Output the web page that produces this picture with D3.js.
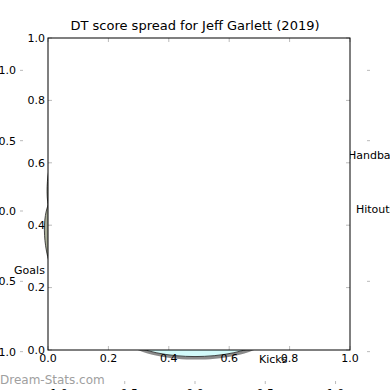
<!DOCTYPE html>
<html><head><meta charset="utf-8">
<script src="https://cdn.jsdelivr.net/npm/d3@7"></script>
<style>body{margin:0;background:#fff}svg{display:block}text{font-family:"DejaVu Sans",sans-serif}</style>
</head><body><svg id="c" width="390" height="390"></svg>
<script>
// ---- data ----
const title = "DT score spread for Jeff Garlett (2019)";
const watermark = "Dream-Stats.com";
const categories = ["Kicks", "Handballs", "Hitouts", "Goals"];
// radar sample directions (degrees, clockwise from the right)
const directions = [0, 30, 60, 90, 120, 150, 180, 210, 240, 270, 300, 330];
const seasonSpread = [0.90, 0.95, 1.05, 1.035, 1.05, 0.95, 0.90, 0.85, 0.80, 0.80, 0.80, 0.85];
const gameSpreadA  = [0.85, 0.80, 0.80, 0.85, 0.95, 1.10, 1.058, 0.85, 0.80, 0.80, 0.80, 0.80];
const gameSpreadB  = [0.80, 0.80, 0.80, 0.80, 0.80, 0.85, 1.038, 1.085, 0.85, 0.80, 0.80, 0.80];
const outerTicks = [-1.0, -0.5, 0.0, 0.5, 1.0];
const innerTicks = [0.0, 0.2, 0.4, 0.6, 0.8, 1.0];

// ---- layout ----
const svg = d3.select("#c");
const ox = d3.scaleLinear().domain([-1.245, 1.245]).range([20, 370]);
const oy = d3.scaleLinear().domain([-1.23, 1.23]).range([384, 38]);
const ix = d3.scaleLinear().domain([0, 1]).range([48, 350]);
const iy = d3.scaleLinear().domain([0, 1]).range([350, 38]);
const fmt = d3.format(".1f");
const tickCol = "#bbbbbb";
const fs = 11;

// outer axes ticks (inward)
const outer = svg.append("g");
outerTicks.forEach(t => {
  outer.append("line").attr("x1", 20).attr("x2", 23).attr("y1", oy(t)).attr("y2", oy(t)).attr("stroke", tickCol);
  outer.append("line").attr("x1", 367).attr("x2", 370).attr("y1", oy(t)).attr("y2", oy(t)).attr("stroke", tickCol);
  outer.append("line").attr("y1", 38).attr("y2", 41).attr("x1", ox(t)).attr("x2", ox(t)).attr("stroke", tickCol);
  outer.append("line").attr("y1", 381).attr("y2", 384).attr("x1", ox(t)).attr("x2", ox(t)).attr("stroke", tickCol);
  outer.append("text").attr("x", 16).attr("y", oy(t)).attr("dy", "0.35em").attr("text-anchor", "end")
    .attr("font-size", fs).text(fmt(t).replace("-", "\u2212"));
  outer.append("text").attr("x", ox(t)).attr("y", 397).attr("text-anchor", "middle")
    .attr("font-size", fs).text(fmt(t).replace("-", "\u2212"));
});

// radar shapes
const toPts = vals => vals.map((r, i) => {
  const a = directions[i] * Math.PI / 180;
  return [ox(r * Math.cos(a)), oy(-r * Math.sin(a))];
});
const line = d3.line().curve(d3.curveCatmullRomClosed.alpha(0.5));
function shape(vals, fill) {
  const d = line(toPts(vals));
  svg.append("path").attr("d", d).attr("transform", "translate(1,3)")
    .attr("fill", "#777").attr("opacity", 0.85);
  svg.append("path").attr("d", d).attr("fill", fill).attr("stroke", "#333").attr("stroke-width", 0.9);
}
shape(gameSpreadA, "#a9ad98");
shape(gameSpreadB, "#a9ad98");
shape(seasonSpread, "#d2fafa");

// category labels
const labelPos = {Kicks: [0.455, -1.05], Handballs: [1.088, 0.398], Hitouts: [1.145, 0.01], Goals: [-1.287, -0.42]};
categories.forEach(c => {
  const p = labelPos[c];
  svg.append("text").attr("x", ox(p[0])).attr("y", oy(p[1])).attr("dy", "0.35em")
    .attr("font-size", fs).text(c);
});

// inner axes
const inner = svg.append("g");
inner.append("rect").attr("x", 48).attr("y", 38).attr("width", 302).attr("height", 312).attr("fill", "#fff");
innerTicks.forEach(t => {
  inner.append("line").attr("x1", ix(t)).attr("x2", ix(t)).attr("y1", 350).attr("y2", 346).attr("stroke", tickCol);
  inner.append("line").attr("x1", ix(t)).attr("x2", ix(t)).attr("y1", 38).attr("y2", 42).attr("stroke", tickCol);
  inner.append("line").attr("x1", 48).attr("x2", 52).attr("y1", iy(t)).attr("y2", iy(t)).attr("stroke", tickCol);
  inner.append("line").attr("x1", 346).attr("x2", 350).attr("y1", iy(t)).attr("y2", iy(t)).attr("stroke", tickCol);
  inner.append("text").attr("x", ix(t)).attr("y", 362).attr("text-anchor", "middle").attr("font-size", fs).text(fmt(t));
  inner.append("text").attr("x", 45).attr("y", iy(t)).attr("dy", "0.35em").attr("text-anchor", "end").attr("font-size", fs).text(fmt(t));
});
inner.append("rect").attr("x", 48).attr("y", 38).attr("width", 302).attr("height", 312)
  .attr("fill", "none").attr("stroke", "#000").attr("stroke-width", 1);

svg.append("text").attr("x", 195).attr("y", 30).attr("text-anchor", "middle").attr("font-size", 13).text(title);
svg.append("text").attr("x", 0).attr("y", 384).attr("font-size", 12).attr("fill", "#a0a0a0").text(watermark);
</script></body></html>
